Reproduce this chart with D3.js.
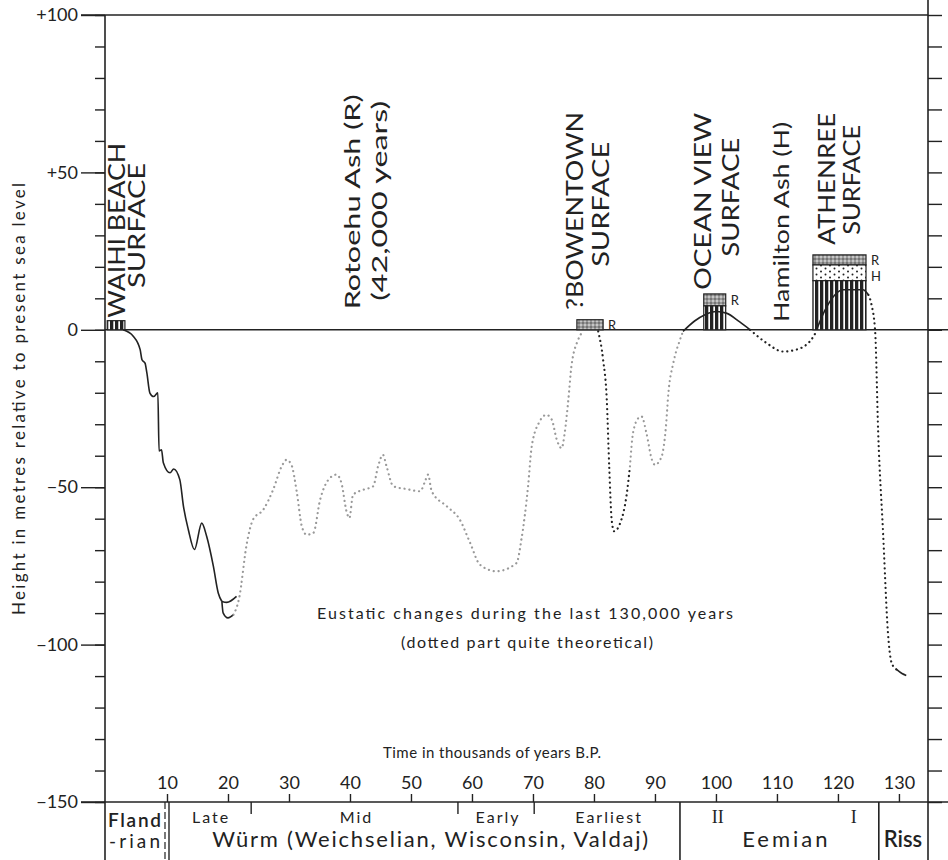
<!DOCTYPE html>
<html>
<head>
<meta charset="utf-8">
<script src="https://cdn.jsdelivr.net/npm/d3@7"></script>
<style>
body { margin: 0; background: #fff; }
text { font-family: Lato, "DejaVu Sans", sans-serif; fill: #222; }
</style>
</head>
<body>
<svg id="chart" width="948" height="860"></svg>
<script>
// sea level curve pieces, [thousands of years B.P., metres]
var solidMain = [[2.8,0],[4.5,-2.1],[5.6,-6.3],[5.9,-9.5],[6.4,-10.6],[6.7,-13.7],[7.2,-20.1],[7.8,-21.2],[8.5,-20.0],
  [8.7,-38.5],[9.1,-38.1],[9.4,-42.2],[10.5,-45.4],[11.1,-44.2],[12.1,-47.6],[12.7,-56.1],[13.5,-63.5],[14.5,-69.8],
  [15.7,-61.4],[16.5,-65.6],[17.6,-75.1],[18.4,-83.6],[19.0,-86.3]]
var solidUpper = [[19.0,-86.3],[19.8,-86.6],[21.4,-84.7]]
var solidLower = [[19.0,-86.3],[19.2,-89.9],[20.0,-91.5],[20.9,-90.5]]
var dottedWurm = [[20.9,-90.5],[21.8,-85.5],[23.1,-67.7],[24.1,-60.3],[25.8,-57.1],[27.4,-50.8],[28.8,-43.4],[29.6,-41.3],
  [30.4,-42.9],[31.3,-51.8],[32.1,-62.4],[32.9,-65.1],[34.0,-64.5],[35.1,-54.0],[36.7,-47.1],[37.8,-46.0],[38.6,-48.7],
  [39.5,-58.2],[39.9,-59.8],[40.5,-52.4],[42.2,-50.8],[43.8,-49.7],[44.6,-43.4],[45.4,-39.7],[46.0,-43.4],[47.1,-49.7],
  [49.3,-50.6],[51.5,-51.3],[52.3,-48.2],[52.8,-46.0],[53.4,-51.3],[55.9,-56.1],[58.0,-60.3],[59.7,-67.7],[61.3,-74.6],
  [64.0,-76.7],[67.3,-74.1],[68.1,-66.7],[69.2,-49.7],[69.8,-37.0],[71.1,-29.1],[72.2,-27.0],[73.1,-28.6],[73.9,-34.9],
  [74.7,-37.6],[75.2,-32.8],[75.8,-22.2],[76.3,-11.7],[77.4,-3.2],[78.2,-0.5]]
var dottedDip = [[80.7,-0.5],[81.5,-9.5],[82.1,-22.2],[82.5,-43.4],[82.9,-60.3],[83.3,-64.0],[84.3,-61.4],[85.4,-51.8],[85.9,-43.4]]
var dottedRise = [[85.9,-43.4],[86.4,-32.8],[87.3,-28.0],[87.8,-27.5],[88.6,-32.8],[89.5,-41.3],[90.0,-42.9],[91.1,-40.2],
  [91.8,-30.7],[92.2,-20.1],[93.0,-10.6],[94.1,-3.2],[94.6,-0.5]]
var solidOceanView = [[94.6,-0.5],[96.5,2.8],[98.2,4.8],[100.1,5.8],[101.7,5.3],[103.9,2.5],[105.6,0]]
var dottedHamilton = [[105.6,0],[108.3,-4.2],[111.0,-6.9],[113.2,-6.3],[116.0,-2.1],[116.5,-0.2]]
var solidAthenree = [[116.5,0],[117.9,6.3],[120.9,12.7],[124.1,12.7],[125.0,11.1]]
var dottedRiss = [[125.0,11.1],[125.5,8],[126.1,-0.5],[126.6,-32.8],[127.4,-64.5],[128.2,-96.3],[128.8,-105.8],[129.6,-107.9]]
var solidRiss = [[129.6,-107.9],[130.5,-109.2],[131.2,-109.8]]

// stratigraphic columns: [from kyr, to kyr], layers [top m, bottom m, material]
var columnSpan = [[0.2,3.1],[77.2,81.5],[98.0,101.6],[115.9,124.6]]
var columnLayers = [
  [[2.9,0,"sand"]],
  [[3.2,0,"ashR"]],
  [[11.4,7.6,"ashR"],[7.6,0,"sand"]],
  [[23.8,20.6,"ashR"],[20.6,15.6,"ashH"],[15.6,0,"sand"]]
]
// ash marks: letter, kyr at right edge of column, metres at layer middle
var ashMarks = [["R",81.5,1.6],["R",101.6,9.5],["R",124.6,22.2],["H",124.6,18.1]]

var surfaceLabels = [["WAIHI BEACH","SURFACE"],["Rotoehu Ash (R)","(42,000 years)"],["?BOWENTOWN","SURFACE"],
  ["OCEAN VIEW","SURFACE"],["Hamilton Ash (H)"],["ATHENREE","SURFACE"]]

var xTicks = [10,20,30,40,50,60,70,80,90,100,110,120,130]
var yMajor = [-150,-100,-50,0,50,100]
var yMajorLabels = ["\u2212150","\u2212100","\u221250","0","+50","+100"]
var yMinor = d3.range(-150,101,10)

var stageNames = ["Fland|-rian","Würm (Weichselian, Wisconsin, Valdaj)","Eemian","Riss"]
var stageBounds = [0,10,94.1,126.7,134.6]
var wurmNames = ["Late","Mid","Early","Earliest"]
var wurmBounds = [10,23.8,57.7,70.2,94.1]
var eemianNames = ["II","I"]
var eemianAt = [100.3,122.6]

var title1 = "Eustatic changes during the last 130,000 years"
var title2 = "(dotted part quite theoretical)"
var xTitle = "Time in thousands of years B.P."
var yTitle = "Height in metres relative to present sea level"

var svg = d3.select("#chart")
var x = d3.scaleLinear().domain([0,134.6]).range([106,927])
var y = d3.scaleLinear().domain([-150,100]).range([802,15])
var ink = "#222"

// patterns
var defs = svg.append("defs")
var pb = defs.append("pattern").attr("id","sand").attr("patternUnits","userSpaceOnUse").attr("width",5).attr("height",10)
pb.append("rect").attr("width",5).attr("height",10).attr("fill","#fff")
pb.append("rect").attr("width",3.3).attr("height",10).attr("fill",ink)
var pr = defs.append("pattern").attr("id","ashR").attr("patternUnits","userSpaceOnUse").attr("width",4).attr("height",4)
pr.append("rect").attr("width",4).attr("height",4).attr("fill","#9a9a9a")
pr.append("circle").attr("cx",1).attr("cy",1).attr("r",0.8).attr("fill","#fff")
pr.append("circle").attr("cx",3).attr("cy",3).attr("r",0.7).attr("fill","#333")
var ph = defs.append("pattern").attr("id","ashH").attr("patternUnits","userSpaceOnUse").attr("width",9).attr("height",6)
ph.append("rect").attr("width",9).attr("height",6).attr("fill","#fff")
ph.append("circle").attr("cx",2).attr("cy",1.5).attr("r",1).attr("fill",ink)
ph.append("circle").attr("cx",6.5).attr("cy",4.5).attr("r",1).attr("fill",ink)

// frame
svg.append("line").attr("x1",81).attr("x2",928).attr("y1",y(100)).attr("y2",y(100)).attr("stroke",ink).attr("stroke-width",1.6)
svg.append("line").attr("x1",105).attr("x2",105).attr("y1",y(100)).attr("y2",860).attr("stroke",ink).attr("stroke-width",1.6)
svg.append("line").attr("x1",928).attr("x2",928).attr("y1",0).attr("y2",860).attr("stroke",ink).attr("stroke-width",1.6)
svg.append("line").attr("x1",105).attr("x2",948).attr("y1",y(0)).attr("y2",y(0)).attr("stroke",ink).attr("stroke-width",1.4)
svg.append("line").attr("x1",81).attr("x2",948).attr("y1",y(-150)).attr("y2",y(-150)).attr("stroke",ink).attr("stroke-width",1.6)

// y axes
var gl = svg.append("g").attr("transform","translate(105,0)")
gl.call(d3.axisLeft(y).tickValues(yMinor).tickSize(10).tickFormat(""))
var glm = svg.append("g").attr("transform","translate(105,0)")
glm.call(d3.axisLeft(y).tickValues(yMajor).tickSize(24).tickPadding(3).tickFormat(function(d,i){ return yMajorLabels[i] }))
var gr = svg.append("g").attr("transform","translate(928,0)")
gr.call(d3.axisRight(y).tickValues(yMinor).tickSize(14).tickFormat(""))
svg.selectAll(".domain").remove()
svg.selectAll(".tick line").attr("stroke",ink).attr("stroke-width",1.4)
glm.selectAll("text").attr("font-size",18).attr("fill",ink).style("font-family","Lato, sans-serif")

// x axis
var gx = svg.append("g").attr("transform","translate(0," + y(-150) + ")")
gx.call(d3.axisTop(x).tickValues(xTicks).tickSize(8).tickPadding(5))
gx.select(".domain").remove()
gx.selectAll(".tick line").attr("stroke",ink).attr("stroke-width",1.4)
gx.selectAll("text").attr("font-size",18).attr("fill",ink).style("font-family","Lato, sans-serif")

// columns
columnLayers.forEach(function(layers, i) {
  var x0 = x(columnSpan[i][0]), x1 = x(columnSpan[i][1])
  layers.forEach(function(l) {
    svg.append("rect").attr("x",x0).attr("width",x1-x0).attr("y",y(l[0])).attr("height",y(l[1])-y(l[0]))
      .attr("fill","url(#" + l[2] + ")").attr("stroke",ink).attr("stroke-width",1.2)
  })
})
svg.selectAll("text.ash").data(ashMarks).enter().append("text").attr("class","ash")
  .attr("x",function(d){ return x(d[1]) + 5 })
  .attr("y",function(d){ return y(d[2]) + (d[0] == "H" ? 8 : 5) })
  .attr("font-size",13).text(function(d){ return d[0] })

// curve
var line = d3.line().x(function(d){ return x(d[0]) }).y(function(d){ return y(d[1]) }).curve(d3.curveMonotoneX)
function solid(data) {
  svg.append("path").datum(data).attr("d",line).attr("fill","none").attr("stroke",ink).attr("stroke-width",1.6)
}
function dotted(data, col) {
  svg.append("path").datum(data).attr("d",line).attr("fill","none").attr("stroke",col)
    .attr("stroke-width",2.2).attr("stroke-linecap","round").attr("stroke-dasharray","0.1 4.8")
}
solid(solidMain); solid(solidUpper); solid(solidLower)
dotted(dottedWurm,"#999"); dotted(dottedDip,ink); dotted(dottedRise,"#999")
solid(solidOceanView); dotted(dottedHamilton,ink); solid(solidAthenree); dotted(dottedRiss,ink); solid(solidRiss)

// rotated labels: kyr of line centre, metres at start, length px, font size
var labelLayout = [
  [[1.8,3.8,175,24],[5.0,13.3,125,24]],
  [[40.5,6.5,215,21],[44.9,9.2,200,21]],
  [[76.9,6.3,198,24],[81.1,20,125,24]],
  [[97.9,12.7,177,24],[102.5,23.2,119,24]],
  [[110.8,2.5,200,21]],
  [[118.2,27,132,24],[122.3,30.2,110,24]]
]
surfaceLabels.forEach(function(lines, i) {
  lines.forEach(function(t, j) {
    var L = labelLayout[i][j]
    var bx = x(L[0]) + L[3] * 0.34, by = y(L[1])
    svg.append("text").attr("transform","translate(" + bx + "," + by + ") rotate(-90)")
      .attr("font-size",L[3]).attr("textLength",L[2]).attr("lengthAdjust","spacingAndGlyphs").text(t)
  })
})

// titles
svg.append("text").attr("x",525).attr("y",619).attr("text-anchor","middle").attr("font-size",16)
  .attr("textLength",416).text(title1)
svg.append("text").attr("x",527).attr("y",648).attr("text-anchor","middle").attr("font-size",16)
  .attr("textLength",252).text(title2)
svg.append("text").attr("x",492).attr("y",758).attr("text-anchor","middle").attr("font-size",15)
  .attr("textLength",218).text(xTitle)
svg.append("text").attr("transform","translate(25,399) rotate(-90)").attr("text-anchor","middle")
  .attr("font-size",17).attr("textLength",432).text(yTitle)

// period band below the axis
var yb = y(-150)
stageBounds.slice(2,4).forEach(function(b) {
  svg.append("line").attr("x1",x(b)).attr("x2",x(b)).attr("y1",yb).attr("y2",860).attr("stroke",ink).attr("stroke-width",1.6)
})
svg.append("line").attr("x1",x(10)+2).attr("x2",x(10)+2).attr("y1",yb).attr("y2",860).attr("stroke",ink).attr("stroke-width",1.4)
svg.append("line").attr("x1",x(10)-2).attr("x2",x(10)-2).attr("y1",yb).attr("y2",860).attr("stroke",ink)
  .attr("stroke-width",1.2).attr("stroke-dasharray","7 3")
wurmBounds.slice(1,4).forEach(function(b) {
  svg.append("line").attr("x1",x(b)).attr("x2",x(b)).attr("y1",yb).attr("y2",yb+12).attr("stroke",ink).attr("stroke-width",1.4)
})
svg.selectAll("text.sub").data(wurmNames).enter().append("text").attr("class","sub")
  .attr("x",function(d,i){ return x((wurmBounds[i] + wurmBounds[i+1]) / 2) + 2 }).attr("y",yb+21)
  .attr("text-anchor","middle").attr("font-size",16).attr("letter-spacing",2).text(function(d){ return d })
svg.selectAll("text.eem").data(eemianNames).enter().append("text").attr("class","eem")
  .attr("x",function(d,i){ return x(eemianAt[i]) }).attr("y",yb+21)
  .attr("text-anchor","middle").attr("font-size",18).style("font-family","'Liberation Serif', serif")
  .text(function(d){ return d })
// Flandrian split on two lines
var fl = stageNames[0].split("|")
svg.append("text").attr("x",x(5) - 2).attr("y",yb+25).attr("text-anchor","middle").attr("font-size",19)
  .attr("font-weight",600).attr("textLength",53).text(fl[0])
svg.append("text").attr("x",x(5) - 2).attr("y",yb+46).attr("text-anchor","middle").attr("font-size",19)
  .attr("textLength",51).text(fl[1])
svg.append("text").attr("x",x(52) + 7).attr("y",yb+45).attr("text-anchor","middle").attr("font-size",22)
  .attr("textLength",436).text(stageNames[1])
svg.append("text").attr("x",x(110.4) + 7).attr("y",yb+45).attr("text-anchor","middle").attr("font-size",22)
  .attr("letter-spacing",3).text(stageNames[2])
svg.append("text").attr("x",x(130.65)).attr("y",yb+45).attr("text-anchor","middle").attr("font-size",22)
  .attr("font-weight",600).text(stageNames[3])
</script>
</body>
</html>
